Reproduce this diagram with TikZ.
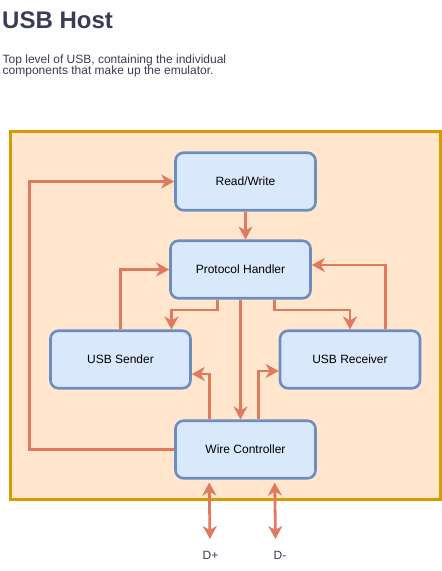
\documentclass[tikz,border=0pt]{standalone}
\usepackage{fontspec}
\setmainfont{Liberation Sans}
\usetikzlibrary{arrows.meta,calc}
\definecolor{arr}{HTML}{E07A5F}
\definecolor{nodef}{HTML}{DAE8FC}
\definecolor{nodeb}{HTML}{6C8EBF}
\definecolor{outf}{HTML}{FFE6CC}
\definecolor{outb}{HTML}{D79B00}
\definecolor{txt}{HTML}{393C56}
\begin{document}
\begin{tikzpicture}[x=1pt,y=-1pt,
  blk/.style={draw=nodeb, fill=nodef, line width=2.6pt, rounded corners=8pt,
    minimum width=140pt, minimum height=57.5pt, inner sep=0pt,
    font=\fontsize{12}{14}\selectfont},
  con/.style={draw=arr, line width=2.8pt, -{Stealth[length=13pt,width=14pt,inset=4pt]}},
  dcon/.style={draw=arr, line width=2.8pt, {Stealth[length=13pt,width=14pt,inset=4pt]}-{Stealth[length=13pt,width=14pt,inset=4pt]}},
  lbl/.style={text=txt, font=\fontsize{12}{14}\selectfont, inner sep=0pt},
  dtxt/.style={anchor=base west, inner sep=0pt, text=txt, font=\fontsize{12}{14}\selectfont}]
\useasboundingbox (0,0) rectangle (442,571);
% title and description
\node[anchor=base west, inner sep=0pt, text=txt, font=\fontsize{24}{26}\selectfont\bfseries] (title) at (2,28.3) {USB Host};
\node[dtxt] (desc1) at (2.5,63) {Top level of USB, containing the individual};
\node[dtxt] (desc2) at (2.5,74) {components that make up the emulator.};
% container
\node[draw=outb, fill=outf, line width=3.2pt, minimum width=430pt, minimum height=368.5pt, inner sep=0pt] (host) at (225.3,315.5) {};
% blocks
\node[blk] (rw) at (245.5,181.5) {Read/Write};
\node[blk] (ph) at (240.5,269.5) {Protocol Handler};
\node[blk] (snd) at (120.5,359.5) {USB Sender};
\node[blk] (rcv) at (350,359.5) {USB Receiver};
\node[blk] (wc) at (245.5,449.5) {Wire Controller};
% labels
\node[lbl] (dp) at (210.5,555) {D+};
\node[lbl] (dm) at (280,555) {D-};
\coordinate (dpe) at (210,539);
\coordinate (dme) at (275.5,539);
% connectors
\draw[con] (wc.west) -- ++(-145,0) |- (rw.west);
\draw[con] (rw.south) -- (rw.south |- ph.north);
\draw[con] (snd.north) |- (ph.west);
\draw[con] ($(rcv.north)+(35.7,0)$) |- ($(ph.east)+(0,-4.5)$);
\draw[con] ($(ph.south west)+(48.3,0)$) -- ++(0,10.5) -| ($(snd.north west)+(122.3,0)$);
\draw[con] (ph.south) -- (ph.south |- wc.north);
\draw[con] ($(ph.south west)+(105,0)$) -- ++(0,10.5) -| (rcv.north);
\draw[con] ($(wc.north west)+(35,0)$) |- ($(snd.east)+(0,14.5)$);
\draw[con] ($(wc.north west)+(84.3,0)$) |- ($(rcv.west)+(0,11.5)$);
\draw[dcon] ($(wc.south west)+(35,3)$) -- (dpe);
\draw[dcon] ($(wc.south west)+(100.5,3)$) -- (dme);
\end{tikzpicture}
\end{document}
